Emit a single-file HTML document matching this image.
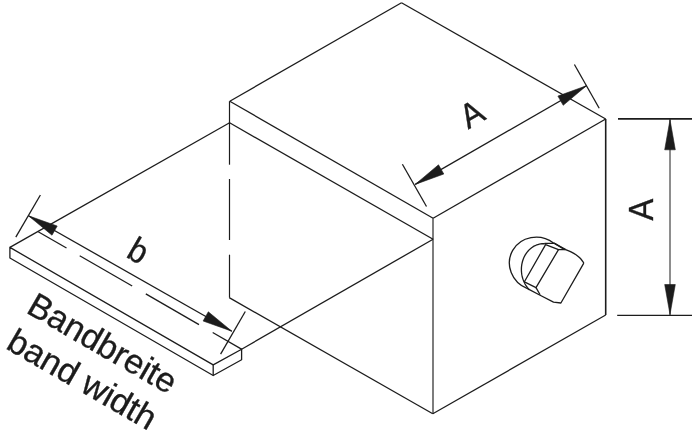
<!DOCTYPE html>
<html><head><meta charset="utf-8"><style>html,body{margin:0;padding:0;background:#fff;width:692px;height:445px;overflow:hidden}</style></head>
<body><svg width="692" height="445" viewBox="0 0 692 445" style="display:block;filter:grayscale(1)" font-family="&quot;Liberation Sans&quot;, sans-serif"><line x1="229.8" y1="101.2" x2="401.5" y2="2.8" stroke="#1c1c1c" stroke-width="1.3"/>
<line x1="401.5" y1="2.8" x2="605.7" y2="119.0" stroke="#1c1c1c" stroke-width="1.3"/>
<line x1="229.8" y1="101.2" x2="433.1" y2="218.2" stroke="#1c1c1c" stroke-width="1.3"/>
<line x1="433.1" y1="218.2" x2="605.7" y2="119.0" stroke="#1c1c1c" stroke-width="1.3"/>
<line x1="433.0" y1="218.2" x2="433.0" y2="413.7" stroke="#1c1c1c" stroke-width="1.15"/>
<line x1="605.7" y1="119.0" x2="605.7" y2="315.0" stroke="#1c1c1c" stroke-width="1.6"/>
<line x1="432.8" y1="413.7" x2="605.7" y2="315.0" stroke="#1c1c1c" stroke-width="1.3"/>
<line x1="229.2" y1="297.6" x2="432.8" y2="413.7" stroke="#1c1c1c" stroke-width="1.3"/>
<line x1="229.5" y1="101.2" x2="229.5" y2="164.7" stroke="#1c1c1c" stroke-width="1.2"/>
<line x1="229.5" y1="179.0" x2="229.5" y2="240.0" stroke="#1c1c1c" stroke-width="1.2"/>
<line x1="229.5" y1="254.7" x2="229.5" y2="297.6" stroke="#1c1c1c" stroke-width="1.2"/>
<line x1="229.6" y1="122.8" x2="433.1" y2="239.2" stroke="#1c1c1c" stroke-width="1.3"/>
<line x1="9.9" y1="247.4" x2="229.6" y2="122.8" stroke="#1c1c1c" stroke-width="1.3"/>
<line x1="241.6" y1="349.2" x2="433.1" y2="239.2" stroke="#1c1c1c" stroke-width="1.3"/>
<polyline points="213.2,364.9 9.9,247.4 9.9,258.0 213.2,375.5 241.6,359.8 241.6,349.2 213.2,364.9" fill="none" stroke="#1c1c1c" stroke-width="1.3" stroke-linejoin="round"/>
<line x1="213.2" y1="364.9" x2="213.2" y2="375.5" stroke="#1c1c1c" stroke-width="1.3"/>
<line x1="38.2" y1="231.7" x2="66.5" y2="248.0" stroke="#1c1c1c" stroke-width="1.3"/>
<line x1="79.7" y1="255.7" x2="132.2" y2="286.0" stroke="#1c1c1c" stroke-width="1.3"/>
<line x1="145.8" y1="293.9" x2="199.0" y2="324.6" stroke="#1c1c1c" stroke-width="1.3"/>
<line x1="212.7" y1="332.5" x2="241.9" y2="349.4" stroke="#1c1c1c" stroke-width="1.3"/>
<line x1="28.5" y1="215.8" x2="231.8" y2="331.2" stroke="#1c1c1c" stroke-width="1.3"/>
<polygon points="28.5,215.8 57.2,226.0 52.0,235.2" fill="#1c1c1c" stroke="#1c1c1c" stroke-width="0.6" stroke-linejoin="round"/>
<polygon points="231.8,331.2 203.1,321.0 208.3,311.8" fill="#1c1c1c" stroke="#1c1c1c" stroke-width="0.6" stroke-linejoin="round"/>
<line x1="40.4" y1="195.0" x2="15.8" y2="237.1" stroke="#1c1c1c" stroke-width="1.3"/>
<line x1="245.3" y1="311.5" x2="220.6" y2="354.2" stroke="#1c1c1c" stroke-width="1.3"/>
<text transform="translate(125.0,256.6) rotate(30) scale(0.92,1)" font-size="34.3" fill="#1c1c1c" stroke="#1c1c1c" stroke-width="0.35">b</text>
<line x1="415.2" y1="184.4" x2="586.5" y2="85.7" stroke="#1c1c1c" stroke-width="1.3"/>
<polygon points="415.2,184.4 438.5,164.8 443.8,174.0" fill="#1c1c1c" stroke="#1c1c1c" stroke-width="0.6" stroke-linejoin="round"/>
<polygon points="586.5,85.7 563.2,105.3 557.9,96.1" fill="#1c1c1c" stroke="#1c1c1c" stroke-width="0.6" stroke-linejoin="round"/>
<line x1="574.4" y1="64.5" x2="599.2" y2="108.2" stroke="#1c1c1c" stroke-width="1.3"/>
<line x1="402.4" y1="164.2" x2="426.5" y2="206.5" stroke="#1c1c1c" stroke-width="1.3"/>
<text transform="translate(468.2,129.5) rotate(-30) scale(0.95,1)" font-size="34.3" fill="#1c1c1c" stroke="#1c1c1c" stroke-width="0.35">A</text>
<line x1="618.0" y1="118.8" x2="692.0" y2="118.8" stroke="#1c1c1c" stroke-width="1.8"/>
<line x1="617.2" y1="315.4" x2="692.0" y2="315.4" stroke="#1c1c1c" stroke-width="1.3"/>
<line x1="670.0" y1="118.5" x2="670.0" y2="315.5" stroke="#1c1c1c" stroke-width="1.0"/>
<polygon points="670.0,119.8 675.3,149.8 664.7,149.8" fill="#1c1c1c" stroke="#1c1c1c" stroke-width="0.6" stroke-linejoin="round"/>
<polygon points="670.0,314.5 664.7,284.5 675.3,284.5" fill="#1c1c1c" stroke="#1c1c1c" stroke-width="0.6" stroke-linejoin="round"/>
<text transform="translate(652.9,220.5) rotate(-90) scale(0.95,1)" font-size="34.3" fill="#1c1c1c" stroke="#1c1c1c" stroke-width="0.35">A</text>
<text transform="translate(24.9,311.9) rotate(30) scale(1.0,1)" font-size="34.3" fill="#1c1c1c" stroke="#1c1c1c" stroke-width="0.35">Bandbreite</text>
<text transform="translate(4.7,347.9) rotate(30) scale(1.0,1)" font-size="34.3" fill="#1c1c1c" stroke="#1c1c1c" stroke-width="0.35">band width</text>
<path d="M553.5,242.9 A27.96,26.52 22.5 1 0 527.5,288.6 L540.1,295.3 L553.5,302.2 L560.9,303 L583.8,263.1" fill="none" stroke="#1c1c1c" stroke-width="1.3" stroke-linejoin="round"/>
<path d="M583.80,263.10 C583.25,262.33 581.80,259.90 580.50,258.50 C579.20,257.10 577.58,255.82 576.00,254.70 C574.42,253.58 572.70,252.65 571.00,251.80 C569.30,250.95 566.67,249.97 565.80,249.60" fill="none" stroke="#1c1c1c" stroke-width="1.3"/>
<line x1="565.8" y1="249.6" x2="553.5" y2="242.9" stroke="#1c1c1c" stroke-width="1.3"/>
<path d="M544.83,243.76 L543.44,243.71 L542.05,243.77 L540.66,243.92 L539.29,244.18 L537.93,244.54 L536.60,244.99 L535.30,245.54 L534.02,246.18 L532.79,246.92 L531.60,247.74 L530.45,248.65 L529.36,249.64 L528.33,250.71 L527.35,251.85 L526.44,253.07 L525.59,254.34 L524.81,255.68 L524.11,257.08 L523.49,258.52 L522.94,260.00 L522.47,261.53 L522.08,263.09 L521.78,264.67 L521.56,266.27 L521.43,267.89 L521.39,269.52 L521.43,271.15 L521.56,272.77 L521.77,274.39 L522.07,275.98 L522.45,277.56 L522.91,279.10 L523.46,280.61 L524.08,282.08 L524.78,283.50 L525.55,284.87 L526.40,286.19 L527.31,287.44 L528.28,288.62 L529.32,289.74" fill="none" stroke="#1c1c1c" stroke-width="1.3" stroke-linejoin="round"/>
<polygon points="545.6,244.6 558.5,249.6 536.0,287.6 524.4,281.8" fill="none" stroke="#1c1c1c" stroke-width="1.3" stroke-linejoin="round"/>
<polyline points="544.5,243.4 554.6,243.4 564.7,249.6" fill="none" stroke="#1c1c1c" stroke-width="1.3" stroke-linejoin="round"/>
<line x1="558.5" y1="249.6" x2="565.8" y2="249.6" stroke="#1c1c1c" stroke-width="1.3"/>
<line x1="536.0" y1="287.6" x2="540.1" y2="294.8" stroke="#1c1c1c" stroke-width="1.3"/></svg></body></html>
